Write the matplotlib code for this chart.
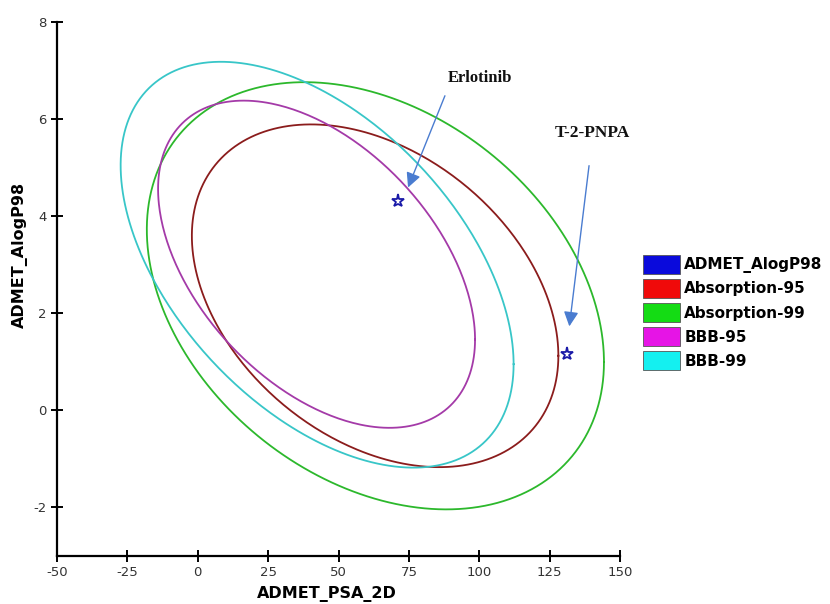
import numpy as np
import matplotlib
matplotlib.use("Agg")
import matplotlib.pyplot as plt
from matplotlib.patches import Patch

plt.rcParams["axes.unicode_minus"] = False

# ellipse parameters (data units)
ell_names = ["Absorption-99", "Absorption-95", "BBB-95", "BBB-99"]
ell_cx = [63.1, 63.0, 42.2, 42.4]
ell_cy = [2.36, 2.36, 3.01, 3.00]
ell_hw = [81.2, 65.1, 56.3, 69.8]      # half range along x
ell_hh = [4.40, 3.53, 3.37, 4.18]      # half range along y
ell_rho = [-0.31, -0.35, -0.46, -0.49]  # tilt (correlation)
ell_colors = ["#2cb82c", "#8b1c1c", "#a43aa8", "#38c6c8"]

# compounds
cmp_names = ["Erlotinib", "T-2-PNPA"]
cmp_x = [71.1, 131.2]
cmp_y = [4.32, 1.17]

legend_names = ["ADMET_AlogP98", "Absorption-95", "Absorption-99", "BBB-95", "BBB-99"]
legend_colors = ["#0a0adc", "#f00a0a", "#14dc14", "#e614e6", "#14f0f0"]

fig = plt.figure(figsize=(8.3, 6.04), dpi=100)
ax = fig.add_axes([0.0687, 0.0795, 0.6783, 0.8841])

t = np.linspace(0, 2 * np.pi, 400)
for i in range(len(ell_names)):
    phi = np.arccos(ell_rho[i])
    ex = ell_cx[i] + ell_hw[i] * np.cos(t)
    ey = ell_cy[i] + ell_hh[i] * np.cos(t + phi)
    ax.plot(ex, ey, color=ell_colors[i], lw=1.3)

ax.plot(cmp_x, cmp_y, ls="none", marker="*", ms=9.5, mfc="white",
        mec="#1a1aa8", mew=1.3, zorder=5)

# arrows + labels
arrow_kw = dict(arrowstyle="-|>", color="#4a7cd0", lw=1.0, mutation_scale=22,
                shrinkA=0, shrinkB=0)
ax.annotate("", xy=(74.7, 4.59), xytext=(87.8, 6.48), arrowprops=arrow_kw)
ax.annotate("", xy=(132.0, 1.73), xytext=(139.0, 5.04), arrowprops=arrow_kw)
ax.text(100.3, 6.85, cmp_names[0], ha="center", va="center", fontsize=12,
        fontweight="bold", family="Liberation Serif", color="#111111")
ax.text(140.0, 5.72, cmp_names[1], ha="center", va="center", fontsize=12.5,
        fontweight="bold", family="Liberation Serif", color="#111111")

ax.set_xlim(-50, 150)
ax.set_ylim(-3, 8)
ax.set_xticks(np.arange(-50, 151, 25))
ax.set_yticks(np.arange(-2, 9, 2))
for s in ["top", "right"]:
    ax.spines[s].set_visible(False)
for s in ["left", "bottom"]:
    ax.spines[s].set_linewidth(1.6)
ax.tick_params(direction="inout", length=8, width=1.4, labelsize=9.5,
               labelcolor="#333333")

ax.set_xlabel("ADMET_PSA_2D", fontsize=11.5, fontweight="bold")
ax.set_ylabel("ADMET_AlogP98", fontsize=11.5, fontweight="bold")
ax.xaxis.set_label_coords(0.48, -0.056)
ax.yaxis.set_label_coords(-0.052, 0.564)

handles = [Patch(facecolor=c, edgecolor="#555555", lw=0.6) for c in legend_colors]
fig.legend(handles, legend_names, loc="upper left", bbox_to_anchor=(0.7747, 0.578),
           frameon=False, prop=dict(weight="bold", size=11),
           handlelength=2.4, handleheight=1.5, handletextpad=0.3,
           labelspacing=0.36, borderaxespad=0, borderpad=0)

fig.savefig("out.png", dpi=100)
